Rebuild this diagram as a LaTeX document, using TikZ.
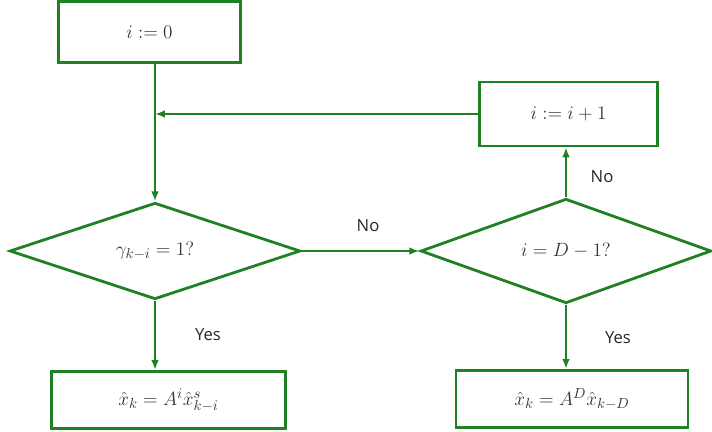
\documentclass[tikz,border=0pt]{standalone}
\usepackage{fontspec}
\setsansfont{Open Sans}
\usetikzlibrary{arrows.meta,shapes.geometric}
\definecolor{flowgreen}{RGB}{32,128,36}

\begin{document}
\begin{tikzpicture}[x=0.75pt,y=-0.75pt,
 box/.style={draw=flowgreen,line width=2.1pt,inner sep=2pt,
             font=\fontsize{15}{18}\selectfont,text=black!80},
 decision/.style={diamond,draw=flowgreen,line width=2.1pt,inner sep=0pt,
             minimum width=218pt,minimum height=66pt,
             font=\fontsize{15}{18}\selectfont,text=black!80},
 arrow/.style={-{Latex[length=2.6mm,width=2mm]},draw=flowgreen,line width=1.5pt},
 tag/.style={font=\sffamily\fontsize{12.5}{15}\selectfont,text=black!85}]
\useasboundingbox (0,0) rectangle (712,431);
\node[box,minimum width=137pt,minimum height=45.5pt] (init) at (149.5,32) {$i:=0$};
\node[box,minimum width=134pt,minimum height=48pt] (incr) at (568.5,114) {$i:=i+1$};
\node[decision] (check) at (155,251) {$\gamma_{k-i}=1?$};
\node[decision] (limit) at (566,251) {$i=D-1?$};
\node[box,minimum width=175pt,minimum height=43pt] (estimate) at (168.5,400) {$\hat{x}_k=A^i\hat{x}^{s}_{k-i}$};
\node[box,minimum width=174pt,minimum height=43pt] (fallback) at (572,399) {$\hat{x}_k=A^D\hat{x}_{k-D}$};
\coordinate (join) at (155,114);
\draw[arrow] (init.south-|check.north)--(check.north);
\draw[arrow] (incr.west)--(join);
\draw[arrow] (check.east)--(limit.west);
\draw[arrow] (limit.north)--(limit.north|-incr.south);
\draw[arrow] (check.south)--(check.south|-estimate.north);
\draw[arrow] (limit.south)--(limit.south|-fallback.north);
\node[tag] (nomid) at (368,226) {No};
\node[tag] (noup) at (602,177) {No};
\node[tag] (yesleft) at (208,335) {Yes};
\node[tag] (yesright) at (618,338) {Yes};
\end{tikzpicture}
\end{document}
